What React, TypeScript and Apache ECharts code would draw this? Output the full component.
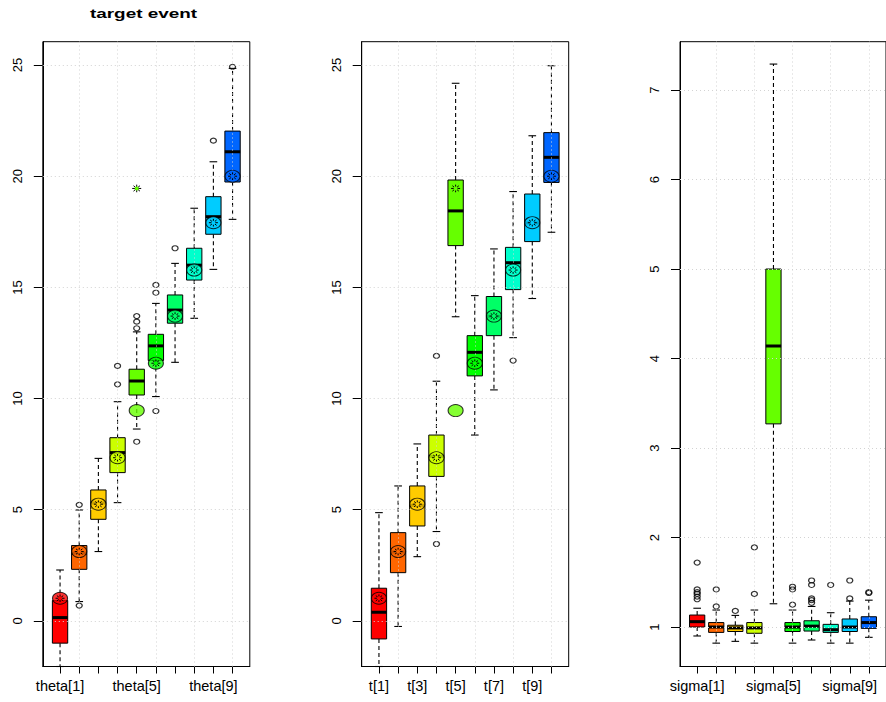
import React, { useEffect, useRef } from "react";
import * as echarts from "echarts";

// ---------- data ----------
const colors = ["#FF0000", "#FF6600", "#FFCC00", "#CCFF00", "#66FF00", "#00FF00", "#00FF66", "#00FFCC", "#00CCFF", "#0066FF"];

const thetaLabels = ["theta[1]", "theta[2]", "theta[3]", "theta[4]", "theta[5]", "theta[6]", "theta[7]", "theta[8]", "theta[9]", "theta[10]"];
const tLabels = ["t[1]", "t[2]", "t[3]", "t[4]", "t[5]", "t[6]", "t[7]", "t[8]", "t[9]", "t[10]"];
const sigmaLabels = ["sigma[1]", "sigma[2]", "sigma[3]", "sigma[4]", "sigma[5]", "sigma[6]", "sigma[7]", "sigma[8]", "sigma[9]", "sigma[10]"];

// [lower whisker, Q1, median, Q3, upper whisker]
const thetaBoxes = [
  [-2.05, -1.0, 0.15, 0.92, 2.29],
  [0.87, 2.32, 3.05, 3.39, 4.99],
  [3.12, 4.57, 5.3, 5.89, 7.31],
  [5.32, 6.67, 7.57, 8.24, 9.86],
  [8.63, 10.16, 10.79, 11.32, 13.0],
  [10.09, 11.71, 12.37, 12.89, 14.28],
  [11.63, 13.39, 13.98, 14.66, 16.08],
  [13.61, 15.33, 16.0, 16.76, 18.56],
  [15.81, 17.39, 18.18, 19.08, 20.65],
  [18.06, 19.74, 21.1, 22.03, 24.85],
];
const thetaOutliers = [
  [2, 5.22], [2, 0.69], [4, 10.64], [4, 11.47], [5, 8.06], [5, 13.16], [5, 13.46], [5, 13.71],
  [6, 9.44], [6, 14.76], [6, 15.11], [7, 16.76], [9, 21.6], [10, 24.92],
];

const tBoxes = [
  [-2.05, -0.81, 0.39, 1.47, 4.87],
  [-0.25, 2.17, 3.1, 3.97, 6.07],
  [2.89, 4.27, 5.2, 6.07, 7.96],
  [4.02, 6.5, 7.4, 8.36, 10.78],
  [13.68, 16.88, 18.44, 19.83, 24.18],
  [8.36, 11.02, 12.08, 12.83, 14.63],
  [10.39, 12.83, 13.7, 14.59, 16.73],
  [12.74, 14.9, 16.11, 16.8, 19.31],
  [14.5, 17.06, 17.9, 19.2, 21.82],
  [17.48, 19.72, 20.85, 21.96, 24.97],
];
const tOutliers = [[4, 11.92], [4, 3.46], [8, 11.71]];

const sigmaBoxes = [
  [0.9, 1.0, 1.06, 1.134, 1.21],
  [0.82, 0.94, 1.0, 1.05, 1.19],
  [0.84, 0.95, 0.99, 1.02, 1.13],
  [0.82, 0.93, 0.99, 1.05, 1.19],
  [1.26, 3.27, 4.14, 5.0, 7.29],
  [0.82, 0.95, 1.0, 1.05, 1.19],
  [0.855, 0.955, 1.01, 1.07, 1.23],
  [0.82, 0.94, 0.97, 1.03, 1.16],
  [0.82, 0.95, 1.0, 1.09, 1.29],
  [0.885, 0.985, 1.05, 1.115, 1.3],
];
const sigmaOutliers = [
  [1, 1.31], [1, 1.34], [1, 1.37], [1, 1.39], [1, 1.42], [1, 1.72],
  [2, 1.23], [2, 1.42], [3, 1.18], [4, 1.37], [4, 1.89],
  [6, 1.25], [6, 1.42], [6, 1.45], [7, 1.27], [7, 1.3], [7, 1.32], [7, 1.47], [7, 1.52],
  [8, 1.47], [9, 1.32], [9, 1.52], [10, 1.38], [10, 1.39],
];

// true values (circles) and estimates (stars) shown in panels 1 and 2
const truthCircle = [1.02, 3.12, 5.25, 7.34, 9.46, 11.59, 13.71, 15.78, 17.91, 20.0];
const truthStar = [1.02, 3.12, 5.25, 7.34, 19.45, 11.59, 13.71, 15.78, 17.91, 20.0];

const thetaTicks = [0, 5, 10, 15, 20, 25];
const sigmaTicks = [1, 2, 3, 4, 5, 6, 7];
const catTicks = [1, 2, 3, 4, 5, 6, 7, 8, 9, 10];
const vGrid = [2, 4, 6, 8, 10];

// ---------- layout ----------
const FONT = "'Liberation Sans', Arial, Helvetica, sans-serif";
const TOP = 41.7;
const HEIGHT = 624.8;
const WIDTH = 207;
const panels = [
  { left: 42.8, boxes: thetaBoxes, outliers: thetaOutliers, labels: thetaLabels, shown: [1, 5, 9], yMin: -2.05, yMax: 26.05, yTicks: thetaTicks, markers: true },
  { left: 361.7, boxes: tBoxes, outliers: tOutliers, labels: tLabels, shown: [1, 3, 5, 7, 9], yMin: -2.05, yMax: 26.05, yTicks: thetaTicks, markers: true },
  { left: 680, boxes: sigmaBoxes, outliers: sigmaOutliers, labels: sigmaLabels, shown: [1, 5, 9], yMin: 0.559, yMax: 7.54, yTicks: sigmaTicks, markers: false },
];

function boxRender(params: any, api: any) {
  const x = api.value(0);
  const low = api.value(1), q1 = api.value(2), med = api.value(3), q3 = api.value(4), high = api.value(5);
  const pL = api.coord([x - 0.4, q3]);
  const pR = api.coord([x + 0.4, q1]);
  const cx = api.coord([x, med])[0];
  const yMed = api.coord([x, med])[1];
  const yHigh = api.coord([x, high])[1];
  const yLow = api.coord([x, low])[1];
  const cw = (pR[0] - pL[0]) / 4;
  const color = colors[params.dataIndex % colors.length];
  const dash = { stroke: "#000", lineWidth: 1.1, lineDash: [4, 3] };
  const solid = { stroke: "#000", lineWidth: 1.1 };
  return {
    type: "group",
    children: [
      { type: "line", shape: { x1: cx, y1: pL[1], x2: cx, y2: yHigh }, style: dash },
      { type: "line", shape: { x1: cx, y1: pR[1], x2: cx, y2: yLow }, style: dash },
      { type: "line", shape: { x1: cx - cw, y1: yHigh, x2: cx + cw, y2: yHigh }, style: solid },
      { type: "line", shape: { x1: cx - cw, y1: yLow, x2: cx + cw, y2: yLow }, style: solid },
      { type: "rect", shape: { x: pL[0], y: pL[1], width: pR[0] - pL[0], height: pR[1] - pL[1] }, style: { fill: color, stroke: "#000", lineWidth: 1 } },
      { type: "line", shape: { x1: pL[0], y1: yMed, x2: pR[0], y2: yMed }, style: { stroke: "#000", lineWidth: 3 } },
    ],
  };
}

function starRender(params: any, api: any) {
  const p = api.coord([api.value(0), api.value(1)]);
  const w = 4.5, h = 3.8, dw = 3.2, dh = 2.7;
  const st = { stroke: "#000", lineWidth: 1 };
  return {
    type: "group",
    children: [
      { type: "line", shape: { x1: p[0] - w, y1: p[1], x2: p[0] + w, y2: p[1] }, style: st },
      { type: "line", shape: { x1: p[0], y1: p[1] - h, x2: p[0], y2: p[1] + h }, style: st },
      { type: "line", shape: { x1: p[0] - dw, y1: p[1] - dh, x2: p[0] + dw, y2: p[1] + dh }, style: st },
      { type: "line", shape: { x1: p[0] - dw, y1: p[1] + dh, x2: p[0] + dw, y2: p[1] - dh }, style: st },
      { type: "circle", shape: { cx: p[0], cy: p[1], r: 2 }, style: { fill: colors[params.dataIndex % colors.length] } },
    ],
  };
}

function buildOption() {
  const grid: any[] = [];
  const xAxis: any[] = [];
  const yAxis: any[] = [];
  const series: any[] = [];
  panels.forEach((p, i) => {
    grid.push({ left: p.left, top: TOP, width: WIDTH, height: HEIGHT, show: true, borderColor: "#000", borderWidth: 1, backgroundColor: "transparent", containLabel: false });
    xAxis.push({
      type: "value", gridIndex: i, min: 0.1, max: 10.9, position: "bottom",
      axisLine: { show: true, onZero: false, lineStyle: { color: "#000", width: 1 } },
      axisTick: { show: true, customValues: catTicks, length: 7, inside: false, lineStyle: { color: "#000", width: 1 } },
      axisLabel: { show: true, customValues: p.shown, margin: 12, color: "#000", fontSize: 14.5, fontFamily: FONT, formatter: (v: number) => p.labels[Math.round(v) - 1] },
      splitLine: { show: false },
    });
    yAxis.push({
      type: "value", gridIndex: i, min: p.yMin, max: p.yMax, position: "left",
      axisLine: { show: true, onZero: false, lineStyle: { color: "#000", width: 1 } },
      axisTick: { show: true, customValues: p.yTicks, length: 9, inside: false, lineStyle: { color: "#000", width: 1 } },
      axisLabel: { show: true, customValues: p.yTicks, rotate: 90, margin: 19, color: "#000", fontSize: 13, fontFamily: FONT },
      splitLine: { show: false },
    });
    series.push({
      type: "custom", xAxisIndex: i, yAxisIndex: i, z: 2, silent: true,
      renderItem: boxRender,
      encode: { x: 0, y: [1, 2, 3, 4, 5] },
      data: p.boxes.map((b, k) => [k + 1, ...b]),
    });
    series.push({
      type: "scatter", xAxisIndex: i, yAxisIndex: i, z: 3, silent: true, data: [],
      markLine: {
        silent: true, symbol: ["none", "none"], label: { show: false },
        lineStyle: { color: "#D3D3D3", type: [1, 3], width: 1 },
        emphasis: { disabled: true },
        data: [...vGrid.map((v) => ({ xAxis: v })), ...p.yTicks.map((v) => ({ yAxis: v }))],
      },
    });
    series.push({
      type: "scatter", xAxisIndex: i, yAxisIndex: i, z: 4, silent: true,
      symbol: "circle", symbolSize: [6, 5],
      itemStyle: { color: "rgba(0,0,0,0)", borderColor: "#000", borderWidth: 1.2 },
      data: p.outliers,
    });
    if (p.markers) {
      series.push({
        type: "scatter", xAxisIndex: i, yAxisIndex: i, z: 5, silent: true,
        symbol: "circle", symbolSize: [15, 12],
        data: truthCircle.map((v, k) => ({ value: [k + 1, v], itemStyle: { color: colors[k], borderColor: "#000", borderWidth: 1 } })),
      });
      series.push({
        type: "custom", xAxisIndex: i, yAxisIndex: i, z: 6, silent: true,
        renderItem: starRender,
        encode: { x: 0, y: 1 },
        data: truthStar.map((v, k) => [k + 1, v]),
      });
    }
  });
  return {
    animation: false,
    backgroundColor: "#fff",
    textStyle: { fontFamily: FONT },
    grid, xAxis, yAxis, series,
    graphic: [
      { type: "text", x: 143.5, y: 13.5, scaleX: 1.4, style: { text: "target event", fontSize: 13.5, fontWeight: "bold", fontFamily: FONT, fill: "#000", textAlign: "center", textVerticalAlign: "middle" } },
    ],
  };
}

export default function App() {
  const ref = useRef<HTMLDivElement>(null);
  useEffect(() => {
    if (!ref.current) return;
    const chart = echarts.init(ref.current, null, { renderer: "svg" });
    chart.setOption(buildOption() as any);
    return () => chart.dispose();
  }, []);
  return <div ref={ref} style={{ position: "fixed", left: 0, top: 0, width: 886, height: 702, background: "#fff" }} />;
}
